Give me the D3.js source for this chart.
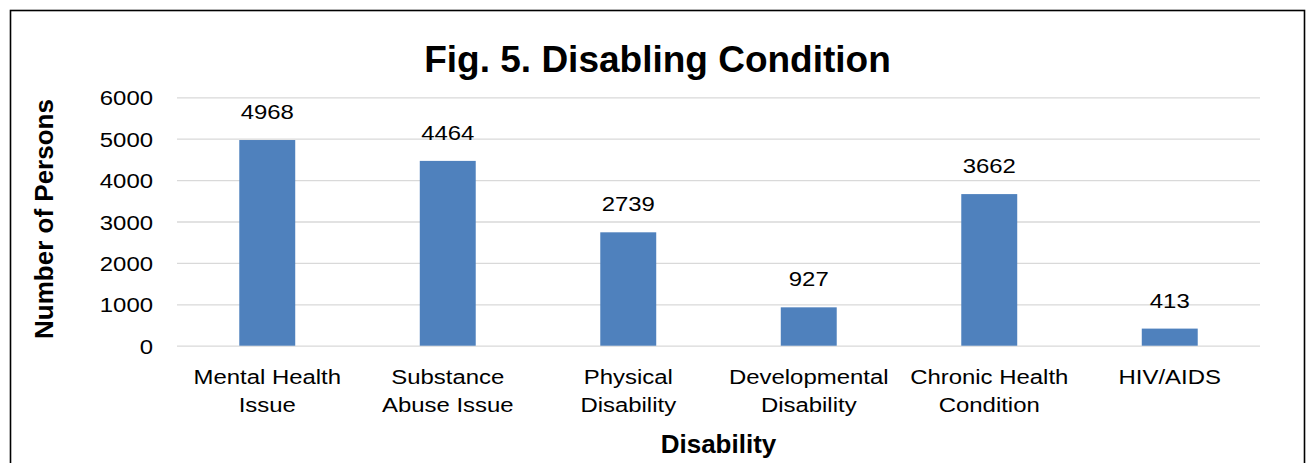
<!DOCTYPE html>
<html>
<head>
<meta charset="utf-8">
<script src="https://cdn.jsdelivr.net/npm/d3@7"></script>
<style>
  html, body { margin: 0; padding: 0; background: #fff; }
  svg { display: block; font-family: "Liberation Sans", Arial, Helvetica, sans-serif; }
</style>
</head>
<body>
<svg id="chart" width="1306" height="463"></svg>
<script>
// Disabling condition counts
const categories = [
  ["Mental Health", "Issue"],
  ["Substance", "Abuse Issue"],
  ["Physical", "Disability"],
  ["Developmental", "Disability"],
  ["Chronic Health", "Condition"],
  ["HIV/AIDS"]
];
const persons = [4968, 4464, 2739, 927, 3662, 413];
const yTicks = [0, 1000, 2000, 3000, 4000, 5000, 6000];
const titleText = "Fig. 5. Disabling Condition";
const xTitle = "Disability";
const yTitle = "Number of Persons";

const svg = d3.select("#chart");
const plot = { left: 177, right: 1260, top: 97.3, bottom: 345.7 };
const labelSize = 21;   // regular label font size
const stretch = 1.14;   // horizontal widening of the regular labels

// outer frame
svg.append("rect")
  .attr("x", 10.5).attr("y", 10.5)
  .attr("width", 1294).attr("height", 470)
  .attr("fill", "none").attr("stroke", "#000").attr("stroke-width", 1.6);

const keys = categories.map((c, i) => i);
const x = d3.scaleBand().domain(keys).range([plot.left, plot.right]).paddingInner(0.69).paddingOuter(0.345);
const y = d3.scaleLinear().domain([0, 6000]).range([plot.bottom, plot.top]);

// gridlines
svg.append("g")
  .attr("transform", `translate(${plot.left},0)`)
  .call(d3.axisLeft(y).tickValues(yTicks).tickSize(-(plot.right - plot.left)).tickFormat(""))
  .call(g => g.select(".domain").remove())
  .call(g => g.selectAll("line").attr("stroke", "#D9D9D9").attr("stroke-width", 1.3));

// y tick labels
svg.append("g")
  .attr("transform", `translate(${plot.left - 24},0)`)
  .call(d3.axisLeft(y).tickValues(yTicks).tickSize(0).tickPadding(0).tickFormat(d3.format("d")))
  .call(g => g.select(".domain").remove())
  .call(g => g.selectAll(".tick text")
    .attr("x", null).attr("dy", null)
    .attr("y", 7.5)
    .attr("transform", `scale(${stretch},1)`)
    .attr("font-size", labelSize).attr("fill", "#000")
    .attr("font-family", "Liberation Sans, Arial, sans-serif"));

// bars
svg.append("g").selectAll("rect")
  .data(persons)
  .join("rect")
  .attr("x", (d, i) => x(i))
  .attr("width", x.bandwidth())
  .attr("y", d => y(d))
  .attr("height", d => y(0) - y(d))
  .attr("fill", "#4F81BD");

// value labels
svg.append("g").selectAll("text")
  .data(persons)
  .join("text")
  .attr("transform", (d, i) => `translate(${x(i) + x.bandwidth() / 2},${y(d) - 21}) scale(${stretch},1)`)
  .attr("text-anchor", "middle")
  .attr("font-size", labelSize)
  .attr("fill", "#000")
  .text(d => d);

// category labels
const catG = svg.append("g").selectAll("text")
  .data(categories)
  .join("text")
  .attr("transform", (d, i) => `translate(${x(i) + x.bandwidth() / 2},383.5) scale(${stretch},1)`)
  .attr("text-anchor", "middle")
  .attr("font-size", labelSize)
  .attr("fill", "#000");
catG.selectAll("tspan")
  .data(d => d)
  .join("tspan")
  .attr("x", 0)
  .attr("dy", (d, i) => i === 0 ? 0 : 29)
  .text(d => d);

// title
svg.append("text")
  .attr("x", 657.5)
  .attr("y", 71.5)
  .attr("text-anchor", "middle")
  .attr("font-size", 37)
  .attr("font-weight", "bold")
  .text(titleText);

// axis titles
svg.append("text")
  .attr("x", (plot.left + plot.right) / 2)
  .attr("y", 453)
  .attr("text-anchor", "middle")
  .attr("font-size", 26)
  .attr("font-weight", "bold")
  .text(xTitle);

svg.append("text")
  .attr("transform", `translate(53,219) rotate(-90)`)
  .attr("text-anchor", "middle")
  .attr("font-size", 26)
  .attr("font-weight", "bold")
  .text(yTitle);
</script>
</body>
</html>
